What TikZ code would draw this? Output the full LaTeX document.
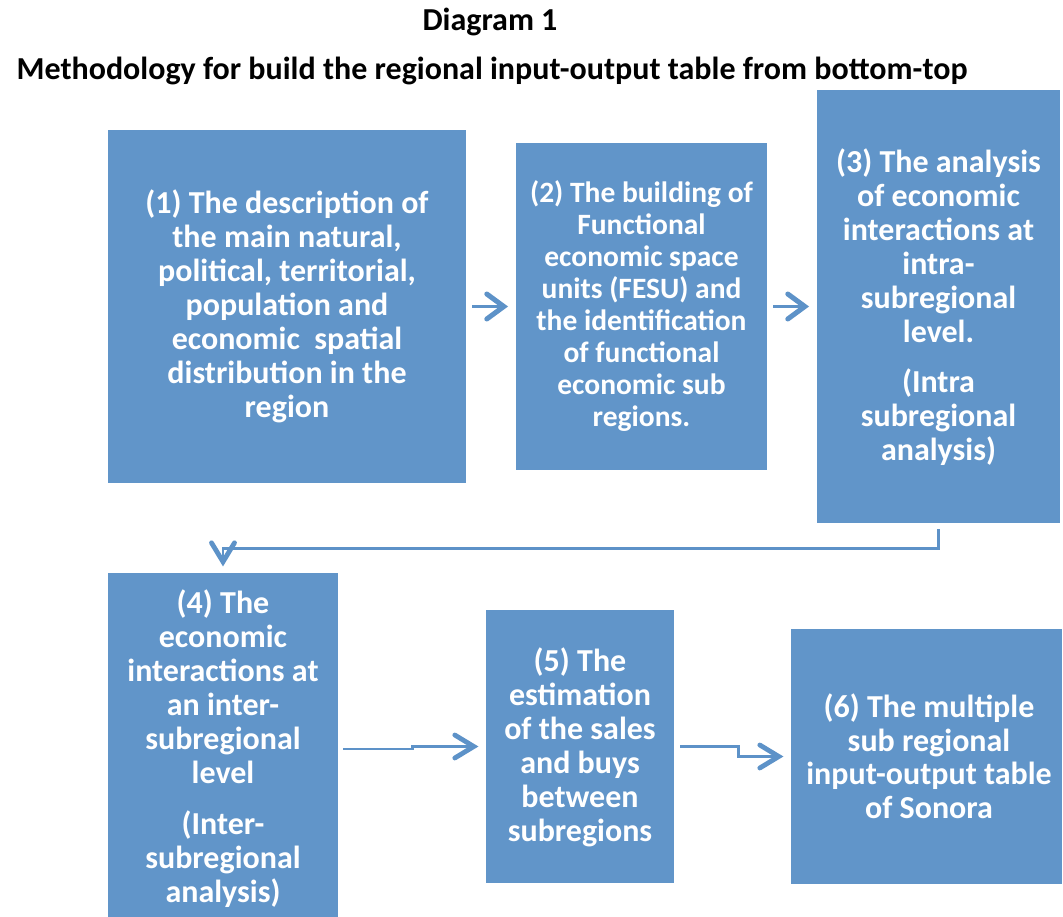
\documentclass[tikz,border=0pt]{standalone}
\usepackage{fontspec}
\setmainfont{Carlito}
\usetikzlibrary{decorations.markings}
\definecolor{boxblue}{HTML}{6195C9}
\definecolor{arrblue}{HTML}{5D92C8}
\tikzset{
  box/.style={fill=boxblue, draw=none, inner sep=0pt, text=white, align=center,
    font=\bfseries\fontsize{32}{34}\selectfont},
  smallbox/.style={box, font=\bfseries\fontsize{29.5}{32}\selectfont},
  chevron/.style n args={3}{postaction={decorate, decoration={markings,
    mark=at position 1 with {\draw[arrblue, line width=#3, line cap=round, line join=miter]
      (-#1,-#2) -- (0pt,0pt) -- (-#1,#2);}}}},
  flowarrow/.style={draw=arrblue, line width=3.4pt, chevron={17pt}{12.5pt}{5pt}},
  conn/.style={draw=arrblue, line width=2.7pt, chevron={19pt}{11.5pt}{4.8pt}},
  heading/.style={inner sep=0pt, font=\bfseries\fontsize{32}{34}\selectfont}
}
\begin{document}
\begin{tikzpicture}[x=1pt,y={(0pt,-1pt)}]
\useasboundingbox (0,0) rectangle (1063,917);
\fill[white] (0,0) rectangle (1063,917);
\node[heading] (t1) at (490,22) {Diagram 1};
\node[heading] (t2) at (492,71) {Methodology for build the regional input-output table from bottom-top};

\node[box, minimum width=358pt, minimum height=353pt] (b1) at (287,306.5) {};
\node[box] at (287,306.5) {(1) The description of\\the main natural,\\political, territorial,\\population and\\economic\ \ spatial\\distribution in the\\region};

\node[smallbox, minimum width=251pt, minimum height=327pt] (b2) at (641.5,306.5) {};
\node[smallbox] at (641.5,306.5) {(2) The building of\\Functional\\economic space\\units (FESU) and\\the identification\\of functional\\economic sub\\regions.};

\node[box, minimum width=243pt, minimum height=433pt] (b3) at (938.5,306.5) {};
\node[box] at (938.5,307.5) {(3) The analysis\\of economic\\interactions at\\intra-\\subregional\\level.\\[16pt](Intra\\subregional\\analysis)};

\node[box, minimum width=230pt, minimum height=344pt] (b4) at (223,745) {};
\node[box] at (223,749) {(4) The\\economic\\interactions at\\an inter-\\subregional\\level\\[17pt](Inter-\\subregional\\analysis)};

\node[box, minimum width=188pt, minimum height=273pt] (b5) at (580,746.5) {};
\node[box] at (580,747) {(5) The\\estimation\\of the sales\\and buys\\between\\subregions};

\node[box, minimum width=271pt, minimum height=255pt] (b6) at (926.5,756.5) {};
\node[box, font=\bfseries\fontsize{32}{33.5}\selectfont] at (929,756) {(6) The multiple\\sub regional\\input-output table\\of Sonora};

\draw[flowarrow] ([xshift=6pt]b1.east) -- ([xshift=-12pt]b2.west);
\draw[flowarrow] ([xshift=6pt]b2.east) -- ([xshift=-12pt]b3.west);
\draw[conn] ([yshift=-6pt]b3.south) -- ++(0,19) -| ([yshift=11pt]b4.north);
\draw[conn] ([xshift=5pt,yshift=-4pt]b4.east) -- ++(69,0) |- ([xshift=-12pt]b5.west);
\draw[conn] ([xshift=6pt]b5.east) -- ++(58,0) |- ([xshift=-12pt]b6.west);
\end{tikzpicture}
\end{document}
